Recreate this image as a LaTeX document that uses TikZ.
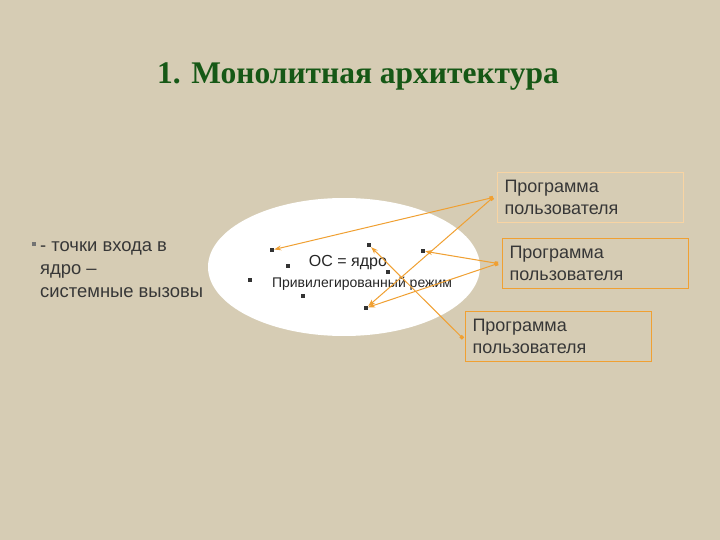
\documentclass[tikz,border=0pt]{standalone}
\usepackage{fontspec}
\setmainfont{Liberation Serif}
\setsansfont{Liberation Sans}
\usetikzlibrary{arrows.meta}
\definecolor{paper}{RGB}{214,204,180}
\definecolor{titlegreen}{RGB}{22,88,22}
\definecolor{linkorange}{RGB}{240,160,50}
\definecolor{inktext}{RGB}{55,55,55}

\begin{document}
\begin{tikzpicture}[x=1pt,y=-1pt]
\tikzstyle{every node}+=[inner sep=0pt]
\tikzstyle{dot}=[fill=black!80,minimum size=4pt]
\tikzstyle{prog}=[draw=linkorange,line width=1pt,anchor=north west,minimum width=186pt,minimum height=50pt,inner xsep=7pt,text width=172pt,align=left,text=inktext,font=\sffamily\fontsize{18}{22}\selectfont]
\tikzstyle{link}=[linkorange,line width=1pt,{Square[length=3.5pt]}-{Stealth[length=7pt,width=5pt]}]
\fill[paper] (0,0) rectangle (720,540);
\useasboundingbox (0,0) rectangle (720,540);
\node[text=titlegreen,font=\bfseries\fontsize{31.5}{36}\selectfont] (title) at (358,77) {1. Монолитная архитектура};
\fill[white] (344,267) ellipse (136 and 69);
\node[font=\sffamily\fontsize{16}{16}\selectfont,text=black!85] (core) at (348,263) {ОС = ядро};
\node[font=\sffamily\fontsize{14}{14}\selectfont,text=black!85] (mode) at (362,284) {Привилегированный режим};
\node[dot] (d1) at (272,250) {};
\node[dot] (d2) at (288,266) {};
\node[dot] (d3) at (250,280) {};
\node[dot] (d4) at (303,296) {};
\node[dot] (d5) at (369,245) {};
\node[dot] (d6) at (388,272) {};
\node[dot] (d7) at (423,251) {};
\node[dot] (d8) at (366,308) {};
\node[prog,draw=linkorange!45] (userA) at (497,172) {Программа\\пользователя};
\node[prog] (userB) at (502,238) {Программа\\пользователя};
\node[prog] (userC) at (465,311) {Программа\\пользователя};
\coordinate (pA) at ([xshift=-4pt]userA.west);
\coordinate (pB) at ([xshift=-4pt]userB.west);
\coordinate (pC) at ([xshift=-2pt,yshift=-2pt]userC.west);
\draw[link] (pA) -- (d1);
\draw[link] (pA) -- (d8);
\draw[link] (pB) -- (d7);
\draw[link] (pB) -- (d8);
\draw[link] (pC) -- (d5);
\node[dot,fill=black!55] (mark) at (34,244) {};
\node[anchor=north west,align=left,text=inktext,font=\sffamily\fontsize{18.4}{23}\selectfont] (calls) at (40,241) {- точки входа в\\ядро –\\системные вызовы};
\end{tikzpicture}
\end{document}
